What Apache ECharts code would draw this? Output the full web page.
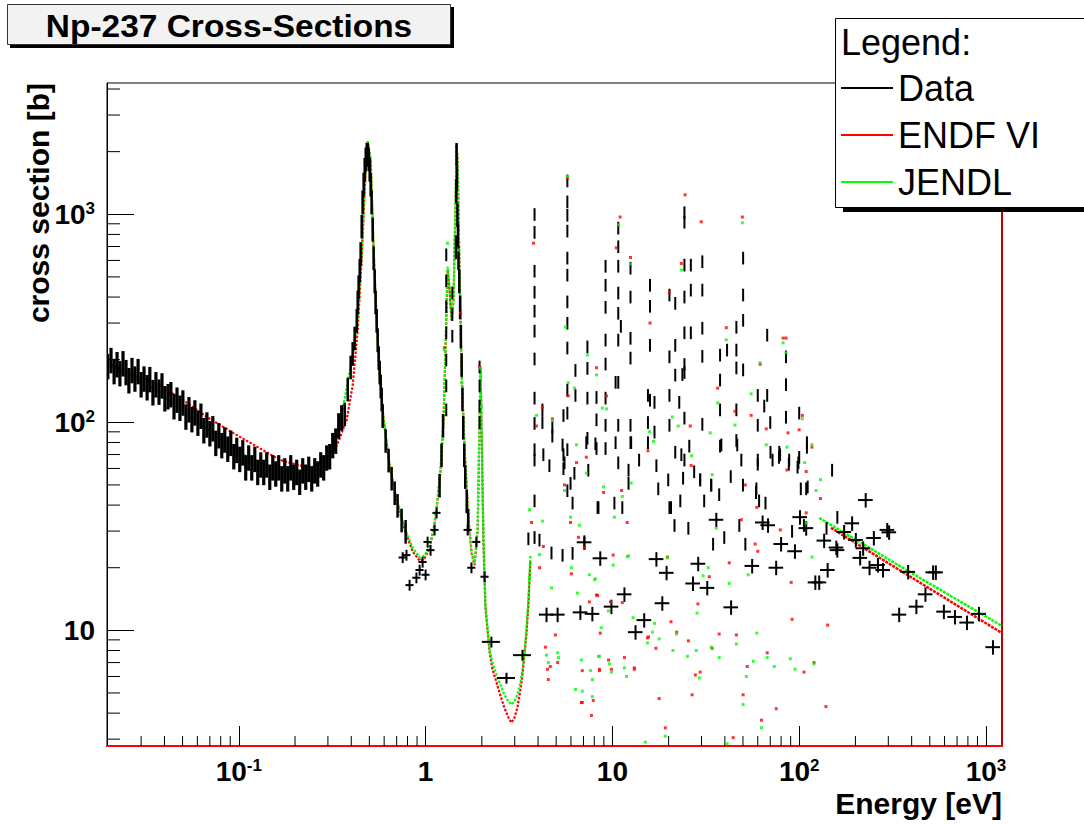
<!DOCTYPE html>
<html><head><meta charset="utf-8">
<script src="https://cdn.jsdelivr.net/npm/echarts/dist/echarts.min.js"></script>
<style>html,body{margin:0;padding:0;background:#fff}#c{width:1084px;height:824px}</style>
</head><body><div id="c"></div>
<script>
// ---------- axis ranges & tick values ----------
const X_MIN = 0.0197, X_MAX = 1218, Y_MIN = 2.78, Y_MAX = 4276;
const xMinorTicks = [0.03,0.04,0.05,0.06,0.07,0.08,0.09,0.2,0.3,0.4,0.5,0.6,0.7,0.8,0.9,2,3,4,5,6,7,8,9,20,30,40,50,60,70,80,90,200,300,400,500,600,700,800,900];
const yMinorTicks = [3,4,5,6,7,8,9,20,30,40,50,60,70,80,90,200,300,400,500,600,700,800,900,2000,3000,4000];

// ---------- measured data (energy eV, cross section b) ----------
const thermalData = [[0.0199,187],[0.0207,200],[0.0215,177],[0.0223,191],[0.0231,173],[0.0240,193],[0.0249,175],[0.0258,160],[0.0268,179],[0.0278,163],[0.0289,177],[0.0300,153],[0.0311,163],[0.0323,148],[0.0334,162],[0.0347,140],[0.0360,153],[0.0374,141],[0.0388,151],[0.0402,131],[0.0418,134],[0.0433,137],[0.0450,120],[0.0467,129],[0.0484,118],[0.0502,125],[0.0521,107],[0.0541,116],[0.0561,104],[0.0582,112],[0.0604,100],[0.0627,108],[0.0650,92],[0.0675,98],[0.0700,89],[0.0726,94],[0.0753,80],[0.0782,87],[0.0811,78],[0.0841,83],[0.0873,75],[0.0906,80],[0.0940,69],[0.0975,74],[0.1012,67],[0.1050,72],[0.1089,61],[0.1130,68],[0.1173,61],[0.1218,67],[0.1263,58],[0.1311,63],[0.1360,58],[0.1411,63],[0.1465,55],[0.1520,61],[0.1577,57],[0.1636,61],[0.1698,54],[0.1762,59],[0.1828,54],[0.1897,61],[0.1968,55],[0.2042,58],[0.2119,52],[0.2199,59],[0.2282,55],[0.2368,60],[0.2457,54],[0.2549,59],[0.2645,57],[0.2745,63],[0.2848,61],[0.2955,68],[0.3066,69],[0.3182,78],[0.3302,82],[0.3426,97],[0.3555,106]];
const flankData = [[0.369,110],[0.383,145],[0.397,185],[0.407,215],[0.417,255],[0.428,310],[0.433,380],[0.438,450],[0.444,540],[0.449,650],[0.455,880],[0.460,1150],[0.466,1400],[0.472,1650],[0.478,1850],[0.484,1950],[0.490,1950],[0.496,1850],[0.502,1650],[0.508,1400],[0.514,1150],[0.521,850],[0.527,620],[0.534,480],[0.540,380],[0.547,310],[0.554,250],[0.561,205],[0.568,175],[0.575,150],[0.582,130],[0.589,108],[0.611,82],[0.634,66],[0.658,54],[0.683,46],[0.708,40],[0.744,34],[0.782,30],
 [1.188,50],[1.217,70],[1.24,97],[1.455,700],[1.46,1300],[1.465,1950],[1.47,1500],[1.48,1000],[1.49,800],[1.50,620],[1.515,480],[1.53,360],[1.545,260],[1.56,190],[1.575,130],[1.59,95],[1.61,70],[1.63,55],[1.66,42],[1.69,34]];
const dipCrossData = [[0.754,22.4],[0.790,23.0],[0.821,16.5],[0.893,17.9],[0.929,19.5],[0.964,21.3],[1.000,18.5],[1.025,26.6],[1.063,24.3],[1.117,30.4],[1.145,36.7],[1.68,30.4],[1.76,20],[1.87,26.6],[2.07,18.1]];
const wideCrossData = [[2.25,8.8],[2.71,5.9],[3.30,7.6]];
const resonanceE = [1.29,1.39,1.945,3.83,4.22,4.77,5.47,5.74,6.34,7.35,8.22,9.19,10.4,10.75,11.1,12.5,15.5,15.9,16.8,20.2,21.7,22.8,23.7,24.3,26.3,30.3,37.7,41.1,46.1,50.1,60.0,65.0,67.4,70.0,79.0,85.0,100,110];
const resonanceS = [
 [640,480,360,270,200,150,115],[420,330,260],[185,150,120,100],
 [1000,820,534,423,343,275,202,131,99,74,66,42,28],[115,100],[95,86],[108,70,60],
 [1450,1150,991,832,617,511,380,300,228,143,111,74,47],[178,135],[231,182,131,84],[132,103,75],
 [564,457,358,249,191,131,97,75],[156],[860,700,564,419,335,249,156,97,64],[290],
 [552,401,254,204,97,80],[135,100],[457,362,235,128],[125,90],[410,207,135,97],[374,235,169],[125],[170],
 [1020,918,571,401,270,190,174,105,66],[571,433,270],[593,433,284,208,98],[211,160,115,77],[223],
 [287,223,183,115,82],[617,410,310,179],[135,97,66],[120],[263,135],[100],[70],[207,152,106],[111,68],[80]];
const barData = [[5.54,64],[5.97,51],[6.26,57],[7.43,59],[8.33,39],[10.25,41],[11.3,39],[12.2,59],[12.2,51],[17.6,48],[19.9,53],[20.6,39],[21.5,32],[23.9,54],[25.5,31],[23.1,42],[29.5,53],[31.0,42],[33.8,50],[34.6,26],[37.3,45],[39.7,28],[47.8,32],[51.5,26],[58.7,46],[78.2,72],[88.4,66],[91.6,30],[99,64],[109,48],[106,32],[140,31],[160,35],[110,76],[5.41,23],[6.12,23.5],[7.08,26.3],[3.55,27.6],[4.07,27.2],[4.72,23.6],[6.12,41],[8.42,39],
 [5.41,78],[7.25,80],[8.11,79],[10.4,80],[12.6,80],[15.5,80],[21.7,72],[23.4,70],[25.8,77],[38.3,78],[46.6,78],[49,66],[60,63],[70.2,72],[78,68],[88,63],[98,61],[150,59],[102,48],[111,49],[61,42],[66,41],[59,48],[50,50],[33.8,50],[29.5,53],[20.2,39],[72,66],[4.27,70],[4.6,62],[13.9,66],[17.2,62],[27.4,58],[43,55]];
const crossData = [[4.44,11.9],[5.09,11.9],[6.74,12.2],[7.81,12.0],[8.61,22.2],[9.88,13.0],[11.6,14.9],[13.3,9.8],[14.8,11.2],[17.2,22],[18.5,13.5],[19.5,18.9],[27.0,16.8],[28.8,20.9],[32.2,16],[36.0,34],[43.2,12.9],[56.0,20.4],[63.7,33],[68.1,32],[75.3,20],[80.0,26],[94.9,24],[101,35],[122,17],[128,17],[142,19.5],[158,25],[136,27],[109,31],[160,24.3],[174,29.7],[192,32.7],[201,27.2],[220,24.8],[212,22.3],[227,42.3],[238,20],[251,27.8],[264,20.6],[281,19.5],[296,30.4],[303,29.6],[343,11.9],[383,19.1],[424,13],[474,14.9],[521,19],[539,19],[595,12.3],[682,11.6],[791,10.9],[917,12],[1090,8.3],[7.08,26.5]];

// ---------- evaluated data: ENDF VI ----------
const endfLine = [[0.0197,193],[0.0270,169],[0.0347,158],[0.0502,128],[0.0675,106],[0.0930,89],[0.1295,75],[0.1657,66],[0.2119,62],[0.2487,61],[0.2955,66],[0.3343,77],[0.3781,103],[0.4074,151],[0.4330,278],[0.4545,603],[0.4718,1310],[0.4896,2240],[0.508,1825],[0.527,674],[0.547,310],[0.5675,169],[0.596,103],[0.642,62],[0.700,42],[0.772,30.4],[0.852,24],[0.929,21.6],[0.988,22.2],[1.051,25],[1.104,30.4],[1.145,38],[1.203,59],[1.248,103],[1.279,228],[1.311,540],[1.344,433],[1.377,310],[1.411,388],[1.447,1172],[1.465,2150],[1.483,1825],[1.520,540],[1.558,179],[1.617,74],[1.698,34],[1.762,23.5],[1.829,20.6],[1.90,30.4],[1.945,103],[1.97,185],[1.99,103],[2.04,27],[2.09,12.9],[2.20,7.9],[2.28,6.5],[2.40,5.6],[2.49,5.0],[2.64,4.25],[2.78,3.8],[2.88,3.6],[2.99,3.8],[3.10,4.25],[3.22,5.2],[3.30,6.1],[3.38,7.6],[3.47,9.7],[3.55,13.3],[3.64,21.8]];
const endfHigh = [[148,31.1],[386,18.3],[1218,9.7]];
const endfDots = [[3.78,726],[5.74,1490],[11.0,970],[12.5,620],[10.5,690],[8.22,183],[9.29,134],[6.42,64],[7.25,68],[3.92,96],[4.22,118],[4.77,104],[5.80,134],[15.9,300],[20.2,422],[23.4,580],[24.5,1240],[29.9,920],[26.1,96],[36.6,146],[40.7,285],[49.6,970],[45.3,113],[55.3,108],[61.8,190],[66.6,93],[82.0,254],[85.0,254],[87.1,89],[104,108],[100,92],[15.5,73],[26.4,62],[5.54,50],[6.03,18.7],[7.08,25],[8.33,14.7],[8.97,46],[11.2,47],[12.0,33],[10.1,23],[11.3,13.6],[15.6,9.3],[17.1,8.2],[17.8,4.7],[19.7,22.5],[20.6,11.0],[22.1,9.8],[25.5,8.9],[26.7,4.9],[28.7,13.4],[29.5,6.3],[33.0,18.1],[34.2,8.2],[37.3,9.6],[42.2,21.1],[46.1,9.5],[49.0,34],[51.5,50],[52.7,6.7],[60.0,24],[58.1,26],[67.4,7.8],[75.3,4.2],[79.2,30.4],[90.6,17],[91.6,11.3],[106,6.3],[120,7.0],[139,4.3],[142,10.6],[109,36.7],[130,43],[109,58],[117,76],[59.3,39],[86.0,59],[7.72,3.9],[6.82,4.5],[7.9,4.6],[9.53,7.2],[9.88,6.5],[8.52,6.5],[13.1,6.5],[11.6,7.4],[19.2,3.4],[27.8,6.1],[50.1,4.9],[62.8,3.7],[44.3,3.05],[3.69,33],[4.27,25.3],[4.07,20],[4.38,8.3],[4.49,6.5],[4.65,6.7],[4.54,5.8],[4.95,9.5],[5.09,7.0],[5.97,33],[6.58,28],[6.90,6.4],[6.90,4.5],[8.52,6.4],[8.61,9.7],[13.1,6.6],[15.4,9.2],[7.53,13.7],[8.22,14.8],[9.76,13.7],[1.26,228],[1.54,335],[1.945,185]];

// ---------- evaluated data: JENDL ----------
const jendlLine = [[0.0197,189],[0.0270,164],[0.0347,146],[0.0440,124],[0.0561,104],[0.0726,89],[0.0930,75],[0.1188,66],[0.1520,60],[0.1932,58],[0.2487,58],[0.2814,61],[0.3182,74],[0.3599,115],[0.4074,211],[0.4330,300],[0.4545,620],[0.4718,1310],[0.4896,2240],[0.508,1825],[0.527,674],[0.547,310],[0.5675,169],[0.596,103],[0.642,62],[0.700,43],[0.772,31],[0.852,25],[0.929,22.4],[0.988,22.8],[1.051,25.5],[1.104,31],[1.145,39],[1.203,60],[1.248,105],[1.279,230],[1.311,560],[1.344,440],[1.377,315],[1.411,390],[1.447,1172],[1.465,2150],[1.483,1825],[1.520,540],[1.558,179],[1.617,74],[1.698,34],[1.762,24],[1.829,21],[1.90,31],[1.945,105],[1.97,182],[1.99,105],[2.04,27.5],[2.09,13.2],[2.20,8.1],[2.28,7.0],[2.40,6.1],[2.49,5.6],[2.64,4.9],[2.78,4.55],[2.88,4.4],[2.99,4.55],[3.10,4.9],[3.22,5.6],[3.30,6.5],[3.38,7.8],[3.47,10.3],[3.55,14],[3.64,23]];
const jendlHigh = [[128,34.7],[386,19.2],[1218,10.5]];
const jendlDots = [[5.74,1520],[3.92,108],[4.77,102],[5.60,287],[5.80,155],[6.26,146],[7.35,211],[8.22,169],[8.83,117],[9.29,116],[10.8,890],[12.5,577],[23.4,540],[20.9,106],[22.5,96],[33.4,89],[36.6,124],[40.7,249],[45.3,97],[49.6,910],[55.3,137],[61.8,193],[66.6,78],[82.0,241],[85.0,216],[86.0,76],[104,104],[117,78],[107,64],[15.8,90],[16.6,81],[26.5,69],[6.42,78],[7.25,57],[5.54,47],[5.97,35],[6.03,20],[7.53,18.5],[8.01,17.5],[8.97,49],[10.25,35],[11.3,44],[12.0,22.6],[12.6,51],[9.64,6.9],[8.71,10.3],[8.52,7.5],[11.6,6.6],[11.9,6.0],[12.9,11.5],[16.8,10.8],[16.4,9.8],[17.8,9.1],[19.7,22.3],[21.1,8.0],[22.0,9.6],[25.2,7.5],[28.1,8.0],[29.2,5.9],[30.6,18.3],[32.6,20],[34.2,56],[36.0,31],[28.4,12.1],[33.8,8.3],[37.3,7.4],[42.2,16.8],[46.1,8.6],[52.1,6.0],[53.3,18.5],[56.8,7.1],[59.3,9.7],[67.4,7.4],[73.5,6.7],[89.5,7.3],[95,6.5],[120,6.9],[109,32.8],[117,22.5],[123,47],[130,53],[6.34,5.2],[6.90,5.1],[7.81,5.8],[50.1,4.4],[62.8,3.4],[19.2,3.1],[15.0,2.9],[41.1,2.85],[3.60,38],[3.60,18],[4.07,23.1],[4.22,33.5],[4.44,7.6],[4.54,7.0],[4.72,16],[5.09,7.8],[5.15,7.4],[6.66,32],[6.50,15.1],[6.82,7.2],[7.63,6.4],[7.81,4.8],[8.11,17.7],[8.42,7.5],[9.88,6.3],[9.53,12.4],[10.1,20.6],[12.2,22.8],[15.4,8.7],[1.31,725],[1.26,223],[1.50,674],[1.56,155],[1.97,182],[1.99,119]];

// ---------- rendering ----------
const FONT = '"Liberation Sans", Arial, Helvetica, sans-serif';
const RED = '#ff0000', GREEN = '#00ff00';

const columnData = [];
resonanceE.forEach((e, i) => resonanceS[i].forEach(s => columnData.push([e, s])));

function errRender(ey, ex, lw) {
  return function (params, api) {
    const x = api.value(0), y = api.value(1);
    const st = { stroke: '#000', lineWidth: lw };
    const a = api.coord([x, y * (1 + ey)]), b = api.coord([x, y * (1 - ey)]);
    const ch = [{ type: 'line', shape: { x1: a[0], y1: a[1], x2: b[0], y2: b[1] }, style: st }];
    if (ex > 0) {
      const l = api.coord([x * (1 - ex), y]), r = api.coord([x * (1 + ex), y]);
      ch.push({ type: 'line', shape: { x1: l[0], y1: l[1], x2: r[0], y2: r[1] }, style: st });
    }
    return { type: 'group', children: ch };
  };
}
function dataSeries(data, ey, ex, lw) {
  return { type: 'custom', name: 'Data', data: data, renderItem: errRender(ey, ex, lw), clip: true, z: 5, silent: true };
}
function tickX(params, api) {
  const p = api.coord([api.value(0), Y_MIN]);
  return { type: 'line', shape: { x1: p[0], y1: p[1], x2: p[0], y2: p[1] - 10 }, style: { stroke: '#000', lineWidth: 1 } };
}
function tickY(params, api) {
  const p = api.coord([X_MIN, api.value(1)]);
  return { type: 'line', shape: { x1: p[0], y1: p[1], x2: p[0] + 13, y2: p[1] }, style: { stroke: '#000', lineWidth: 1 } };
}
function powLabel(v) {
  const l = Math.log10(v), p = Math.round(l);
  if (Math.abs(l - p) > 1e-6) return '';
  if (p === 0) return '{b|1}';
  if (p === 1) return '{b|10}';
  return '{b|10}{s|' + p + '}';
}
const richLab = {
  b: { fontSize: 28, fontWeight: 'bold', fontFamily: FONT, color: '#000', lineHeight: 28, verticalAlign: 'middle', padding: [7, 0, 7, 0] },
  s: { fontSize: 17, fontWeight: 'bold', fontFamily: FONT, color: '#000', lineHeight: 17, verticalAlign: 'top', padding: [0, 0, 25, 0] }
};

const chart = echarts.init(document.getElementById('c'), null, { renderer: 'svg' });
chart.setOption({
  animation: false,
  backgroundColor: '#fff',
  grid: { left: 107, right: 82, top: 83, bottom: 78, show: true, borderColor: '#000', borderWidth: 1 },
  xAxis: {
    type: 'log', logBase: 10, min: X_MIN, max: X_MAX,
    axisLine: { show: true, onZero: false, lineStyle: { color: RED, width: 2 } },
    axisTick: { show: true, inside: true, length: 20, lineStyle: { color: '#000', width: 1 } },
    axisLabel: { show: true, margin: 11, formatter: powLabel, rich: richLab, showMinLabel: false, showMaxLabel: false },
    splitLine: { show: false }, minorTick: { show: false }
  },
  yAxis: [{
    type: 'log', logBase: 10, min: Y_MIN, max: Y_MAX,
    axisLine: { show: true, onZero: false, lineStyle: { color: '#000', width: 1 } },
    axisTick: { show: true, inside: true, length: 27, lineStyle: { color: '#000', width: 1 } },
    axisLabel: { show: true, margin: 12, formatter: powLabel, rich: richLab, showMinLabel: false, showMaxLabel: false },
    splitLine: { show: false }
  }, {
    type: 'log', logBase: 10, min: Y_MIN, max: Y_MAX, position: 'right',
    axisLine: { show: true, onZero: false, lineStyle: { color: '#c00000', width: 2 } },
    axisTick: { show: false }, axisLabel: { show: false }, splitLine: { show: false }
  }],
  legend: {
    orient: 'vertical', left: 836, top: 63, itemWidth: 52, itemHeight: 2, itemGap: 7, icon: 'rect',
    selectedMode: false, z: 20,
    textStyle: { fontSize: 36, fontFamily: FONT, color: '#000', lineHeight: 40 },
    data: [
      { name: 'Data', itemStyle: { color: '#000' } },
      { name: 'ENDF VI', itemStyle: { color: RED } },
      { name: 'JENDL', itemStyle: { color: GREEN } }
    ]
  },
  graphic: [
    { type: 'rect', z: 30, shape: { x: 10, y: 7, width: 444, height: 41 }, style: { fill: '#000' } },
    { type: 'rect', z: 30, shape: { x: 7.5, y: 4.5, width: 443, height: 40 }, style: { fill: '#f2f2f2', stroke: '#333', lineWidth: 1 } },
    { type: 'text', z: 31, x: 229, y: 26, scaleX: 1.08,
      style: { text: 'Np-237 Cross-Sections', fontSize: 31, fontWeight: 'bold', fontFamily: FONT, fill: '#000', align: 'center', verticalAlign: 'middle' } },
    { type: 'rect', z: 15, shape: { x: 843, y: 23, width: 260, height: 189 }, style: { fill: '#000' } },
    { type: 'rect', z: 15, shape: { x: 835.5, y: 18.5, width: 260, height: 189 }, style: { fill: '#fff', stroke: '#000', lineWidth: 1 } },
    { type: 'text', z: 21, x: 841, y: 42,
      style: { text: 'Legend:', fontSize: 36, fontFamily: FONT, fill: '#000', align: 'left', verticalAlign: 'middle' } },
    { type: 'text', z: 21, x: 38, y: 83, rotation: Math.PI / 2,
      style: { text: 'cross section [b]', fontSize: 30, fontWeight: 'bold', fontFamily: FONT, fill: '#000', align: 'right', verticalAlign: 'middle' } },
    { type: 'text', z: 21, x: 1002, y: 803,
      style: { text: 'Energy [eV]', fontSize: 30, fontWeight: 'bold', fontFamily: FONT, fill: '#000', align: 'right', verticalAlign: 'middle' } }
  ],
  series: [
    { type: 'custom', name: 'ticksX', data: xMinorTicks.map(v => [v, Y_MIN]), renderItem: tickX, clip: false, z: 1, silent: true },
    { type: 'custom', name: 'ticksY', data: yMinorTicks.map(v => [X_MIN, v]), renderItem: tickY, clip: false, z: 1, silent: true },
    { type: 'line', name: 'ENDF VI', data: endfLine, showSymbol: false, z: 3, silent: true,
      lineStyle: { color: RED, width: 2.2, type: [2.5, 1.5] }, itemStyle: { color: RED } },
    { type: 'line', name: 'ENDF VI', data: endfHigh, showSymbol: false, z: 3, silent: true,
      lineStyle: { color: RED, width: 2.5, type: [3, 1] }, itemStyle: { color: RED } },
    { type: 'line', name: 'JENDL', data: jendlLine, showSymbol: false, z: 4, silent: true,
      lineStyle: { color: GREEN, width: 2.2, type: [2.5, 1.5] }, itemStyle: { color: GREEN } },
    { type: 'line', name: 'JENDL', data: jendlHigh, showSymbol: false, z: 4, silent: true,
      lineStyle: { color: GREEN, width: 2.5, type: [3, 1] }, itemStyle: { color: GREEN } },
    dataSeries(thermalData, 0.14, 0, 3.2),
    dataSeries(flankData, 0.13, 0, 2.5),
    dataSeries(dipCrossData, 0.06, 0.05, 2),
    dataSeries(wideCrossData, 0.06, 0.11, 2),
    dataSeries(columnData, 0.07, 0, 2),
    dataSeries(barData, 0.07, 0, 2),
    dataSeries(crossData, 0.08, 0.09, 2),
    { type: 'scatter', name: 'ENDF VI', data: endfDots, symbol: 'rect', symbolSize: 3, z: 6, silent: true, itemStyle: { color: RED } },
    { type: 'scatter', name: 'JENDL', data: jendlDots, symbol: 'rect', symbolSize: 3, z: 7, silent: true, itemStyle: { color: GREEN } }
  ]
});
</script>
</body></html>
